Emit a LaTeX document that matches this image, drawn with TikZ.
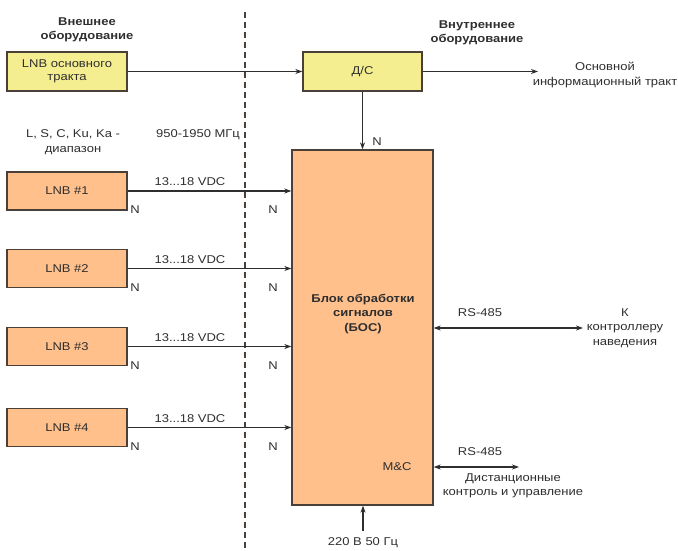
\documentclass[tikz,border=0pt]{standalone}
\usepackage{fontspec}
\setmainfont[FakeStretch=1.15]{Liberation Sans}
\usetikzlibrary{arrows.meta}

\definecolor{boxorange}{HTML}{FFC08C}
\definecolor{boxyellow}{HTML}{F5EE90}
\definecolor{boxline}{HTML}{4A4038}
\definecolor{txt}{HTML}{2E2E2E}

\tikzset{
  blk/.style={draw=boxline, line width=1.3pt, inner sep=0pt, text=txt,
    minimum width=120pt, minimum height=39pt, align=center,
    font=\fontsize{11.3}{13.5}\selectfont},
  lnb/.style={blk, fill=boxorange},
  dc/.style={blk, fill=boxyellow},
  lbl/.style={text=txt, inner sep=0pt, align=center, font=\fontsize{11.3}{14.5}\selectfont},
  hdr/.style={lbl, font=\fontsize{11.3}{14.5}\selectfont\bfseries},
  arr/.style={draw=txt, line width=1.1pt, -{Stealth[length=7pt,width=5pt]}},
  barr/.style={draw=txt, line width=1.1pt, {Stealth[length=7pt,width=5pt]}-{Stealth[length=7pt,width=5pt]}}
}

\begin{document}
\begin{tikzpicture}[x=1pt, y=-1pt]
  \useasboundingbox (0, 0) rectangle (678, 551);

  % boundary between outdoor and indoor units
  \draw[boxline, line width=1.3pt, dash pattern=on 6pt off 4pt] (245, 12) -- (245, 551);

  \node[hdr] (outhdr) at (87, 30) {Внешнее\\оборудование};
  \node[hdr] (inhdr) at (477, 33) {Внутреннее\\оборудование};

  % main path
  \node[dc] (lnbmain) at (67, 71.5) {LNB основного\\тракта};
  \node[dc, minimum width=119pt] (ds) at (362.5, 71.5) {Д/С};
  \node[lbl] (mainout) at (605, 75) {Основной\\информационный тракт};
  \coordinate (mainend) at (538, 71.5);
  \draw[arr] (lnbmain.east) -- (ds.west);
  \draw[arr] (ds.east) -- (mainend);

  \node[lbl] (bands) at (73, 142) {L, S, C, Ku, Ka -\\диапазон};
  \node[lbl] (freq) at (198, 135) {950-1950 МГц};

  % processing unit
  \node[lnb, minimum width=141pt, minimum height=355pt] (bos) at (362.5, 327.5) {};
  \node[hdr] (bostext) at (363, 314) {Блок обработки\\сигналов\\(БОС)};
  \draw[arr] (ds.south) -- (bos.north);
  \node[lbl] (nds) at (377, 142) {N};

  % LNB inputs
  \foreach \i/\y in {1/191, 2/268.5, 3/346.5, 4/427.5} {
    \node[lnb, minimum height=38pt] (lnb\i) at (67, \y) {LNB \#\i};
    \draw[arr] (lnb\i.east) -- (lnb\i.east -| bos.west);
    \node[lbl] (vdc\i) at (190, \y - 9) {13...18 VDC};
    \node[lbl] (nl\i) at (135, \y + 19) {N};
    \node[lbl] (nr\i) at (273, \y + 19) {N};
  }

  % control links
  \coordinate (rsend) at (583, 328);
  \draw[barr] (bos.east |- rsend) -- (rsend);
  \node[lbl] (rs1) at (480, 313) {RS-485};
  \node[lbl] (ctrl) at (625, 328) {К\\контроллеру\\наведения};

  \node[lbl] (mc) at (397, 467) {M\&C};
  \coordinate (mcend) at (519, 467);
  \draw[barr] (bos.east |- mcend) -- (mcend);
  \node[lbl] (rs2) at (480, 452) {RS-485};
  \node[lbl] (remote) at (513, 486) {Дистанционные\\контроль и управление};

  % power supply
  \coordinate (pwr) at (363, 531);
  \draw[arr] (pwr) -- (bos.south -| pwr);
  \node[lbl] (pwrtext) at (363, 543) {220 В 50 Гц};
\end{tikzpicture}
\end{document}
